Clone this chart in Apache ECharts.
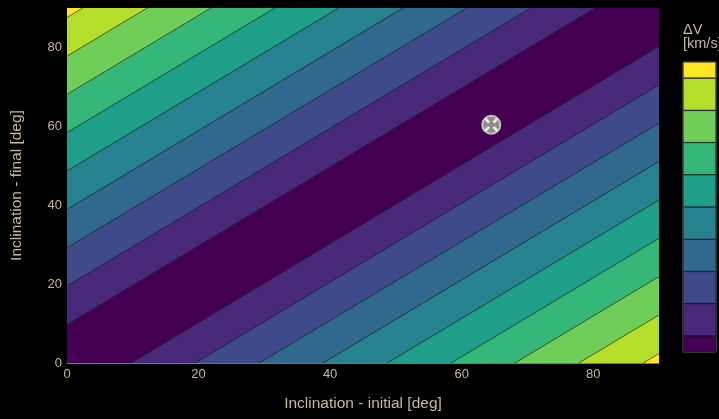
<!DOCTYPE html>
<html>
<head>
<meta charset="utf-8">
<script src="https://cdn.jsdelivr.net/npm/echarts@6/dist/echarts.min.js"></script>
<style>html,body{margin:0;padding:0;background:#000;}#c{width:719px;height:419px;}</style>
</head>
<body>
<div id="c"></div>
<script>
// contour levels: |final - initial| in degrees where the bands change
var levels = [9.7, 19.5, 29.2, 38.9, 48.7, 58.4, 68.1, 77.8, 87.6];
// band colours, from lowest to highest ΔV
var bandColors = ['#440154','#482878','#3e4a89','#31688e','#26828e','#1f9e89','#35b779','#6ece58','#b5de2b','#fde725'];
// colourbar band sizes (relative), bottom to top
var colorbarSizes = [0.5, 1, 1, 1, 1, 1, 1, 1, 1, 0.5];
var xTicks = [0, 20, 40, 60, 80];
var yTicks = [0, 20, 40, 60, 80];
var marker = [[64.5, 60.4]];
var axisMin = 0, axisMax = 90;

var txt = '#c9b99b';
var font = '"Liberation Sans", Arial, sans-serif';

// Build bands: each band is a strip lo <= (y - x) <= hi (and mirrored)
var bounds = [0].concat(levels).concat([1000]);
var bandData = [];
for (var i = 0; i < bandColors.length; i++) {
  var lo = bounds[i], hi = bounds[i + 1];
  if (i === 0) {
    bandData.push([-hi, hi, i]);
  } else {
    bandData.push([lo, hi, i]);
    bandData.push([-hi, -lo, i]);
  }
}
var lineData = [];
levels.forEach(function (d) { lineData.push([d]); lineData.push([-d]); });

var far0 = -200, far1 = 300;

var option = {
  backgroundColor: '#000',
  animation: false,
  textStyle: { fontFamily: font },
  title: {
    text: 'ΔV\n[km/s]',
    left: 683, top: 23, padding: 0,
    textStyle: { color: txt, fontSize: 14.5, fontWeight: 'normal', lineHeight: 14, fontFamily: font }
  },
  grid: [
    { left: 67, right: 60, top: 8, bottom: 56 },
    { left: 683, top: 62, width: 33, height: 290, show: true, borderColor: '#666', borderWidth: 1, backgroundColor: 'transparent' }
  ],
  xAxis: [
    {
      type: 'value', gridIndex: 0, min: axisMin, max: axisMax, interval: 20,
      name: 'Inclination - initial [deg]', nameLocation: 'middle', nameGap: 33,
      nameTextStyle: { color: txt, fontSize: 15.5, fontFamily: font },
      axisLine: { show: true, lineStyle: { color: '#7f7566', width: 1 } },
      axisTick: { show: false },
      splitLine: { show: false },
      axisLabel: { color: txt, fontSize: 13, margin: 5, showMaxLabel: false, fontFamily: font,
        formatter: function (v) { return xTicks.indexOf(v) >= 0 ? String(v) : ''; } }
    },
    { type: 'category', gridIndex: 1, data: ['cb'], show: false }
  ],
  yAxis: [
    {
      type: 'value', gridIndex: 0, min: axisMin, max: axisMax, interval: 20,
      name: 'Inclination - final [deg]', nameLocation: 'middle', nameGap: 42, nameRotate: 90,
      nameTextStyle: { color: txt, fontSize: 15.5, fontFamily: font },
      axisLine: { show: true, lineStyle: { color: '#7f7566', width: 1 } },
      axisTick: { show: false },
      splitLine: { show: false },
      axisLabel: { color: txt, fontSize: 13, margin: 5, showMaxLabel: false, fontFamily: font,
        formatter: function (v) { return yTicks.indexOf(v) >= 0 ? String(v) : ''; } }
    },
    { type: 'value', gridIndex: 1, min: 0, max: colorbarSizes.reduce(function (a, b) { return a + b; }, 0), show: false }
  ],
  series: [
    {
      type: 'custom', xAxisIndex: 0, yAxisIndex: 0, clip: true, silent: true,
      data: bandData,
      renderItem: function (params, api) {
        var lo = api.value(0), hi = api.value(1), ci = api.value(2);
        var pts = [
          api.coord([far0, far0 + lo]), api.coord([far1, far1 + lo]),
          api.coord([far1, far1 + hi]), api.coord([far0, far0 + hi])
        ];
        return { type: 'polygon', shape: { points: pts }, style: { fill: bandColors[ci], stroke: bandColors[ci], lineWidth: 0.5 } };
      }
    },
    {
      type: 'custom', xAxisIndex: 0, yAxisIndex: 0, clip: true, silent: true,
      data: lineData,
      renderItem: function (params, api) {
        var d = api.value(0);
        var p0 = api.coord([far0, far0 + d]), p1 = api.coord([far1, far1 + d]);
        return { type: 'line', shape: { x1: p0[0], y1: p0[1], x2: p1[0], y2: p1[1] }, style: { stroke: 'rgba(20,20,20,0.75)', lineWidth: 0.8 } };
      }
    },
    {
      type: 'custom', xAxisIndex: 0, yAxisIndex: 0, clip: false, silent: true,
      data: marker,
      renderItem: function (params, api) {
        var c = api.coord([api.value(0), api.value(1)]);
        var a = 2.2, b = 5.8;
        var s = { stroke: '#f4f2ea', lineWidth: 2.6 };
        return {
          type: 'group', children: [
            { type: 'circle', shape: { cx: c[0], cy: c[1], r: 9 }, style: { fill: '#8e8e88', stroke: '#c6c6bd', lineWidth: 2 } },
            { type: 'line', shape: { x1: c[0] - b, y1: c[1] - b, x2: c[0] - a, y2: c[1] - a }, style: s },
            { type: 'line', shape: { x1: c[0] + a, y1: c[1] + a, x2: c[0] + b, y2: c[1] + b }, style: s },
            { type: 'line', shape: { x1: c[0] + b, y1: c[1] - b, x2: c[0] + a, y2: c[1] - a }, style: s },
            { type: 'line', shape: { x1: c[0] - a, y1: c[1] + a, x2: c[0] - b, y2: c[1] + b }, style: s }
          ]
        };
      }
    }
  ].concat(colorbarSizes.map(function (v, i) {
    return {
      type: 'bar', xAxisIndex: 1, yAxisIndex: 1, stack: 'cb', barWidth: '100%', silent: true,
      data: [v],
      itemStyle: { color: bandColors[i], borderColor: 'rgba(30,30,30,0.8)', borderWidth: 0.6 }
    };
  }))
};

var chart = echarts.init(document.getElementById('c'), null, { renderer: 'canvas' });
chart.setOption(option);
</script>
</body>
</html>
